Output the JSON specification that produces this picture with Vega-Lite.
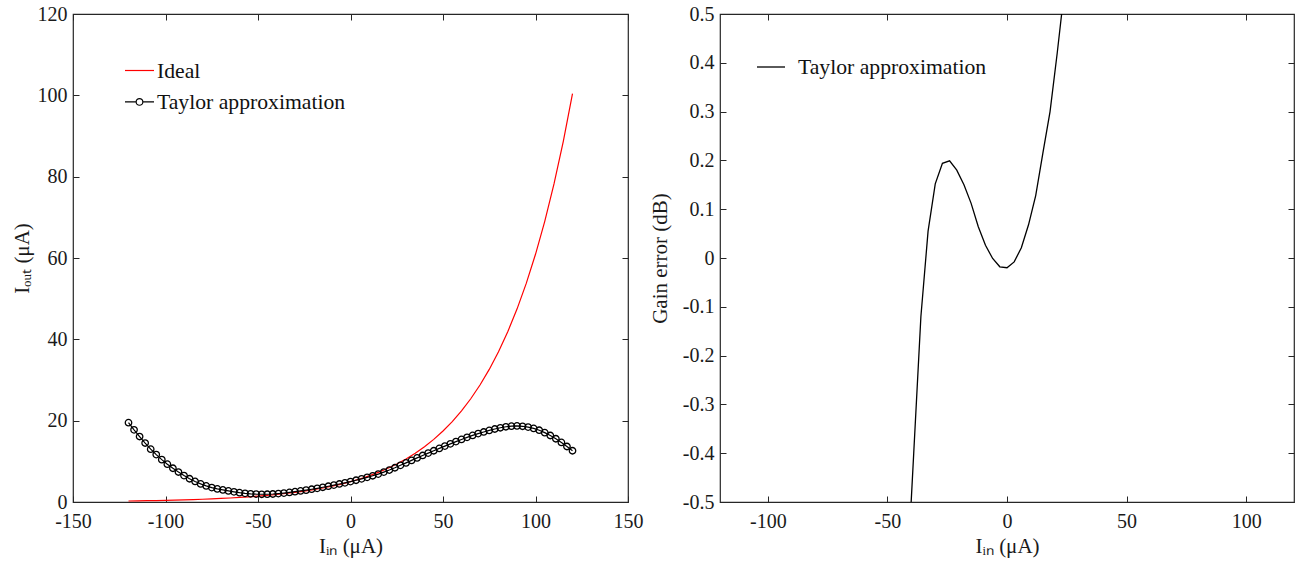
{
  "$schema": "https://vega.github.io/schema/vega-lite/v6.json",
  "background": "white",
  "padding": {"left": 10, "top": -12, "right": 0, "bottom": 0},
  "config": {
    "font": "Liberation Serif",
    "view": {"stroke": "#262626", "strokeWidth": 1.2},
    "axis": {
      "grid": false, "domain": false, "tickSize": -6, "tickColor": "#262626", "tickWidth": 1,
      "labelFont": "Liberation Serif", "labelFontSize": 20, "labelColor": "#1a1a1a",
      "labelFlush": false, "labelOverlap": false, "labelBound": false,
      "titleFont": "Liberation Serif", "titleFontSize": 21, "titleFontWeight": "normal", "titleColor": "#1a1a1a"
    },
    "legend": {
      "labelFont": "Liberation Serif", "labelFontSize": 21.7, "labelColor": "#111111",
      "padding": 0, "symbolStrokeWidth": 1.2, "labelLimit": 400
    }
  },
  "datasets": {
    "left": [
      {"x": -120, "y": 0.249, "series": "Ideal"},
      {"x": -115, "y": 0.282, "series": "Ideal"},
      {"x": -110, "y": 0.32, "series": "Ideal"},
      {"x": -105, "y": 0.362, "series": "Ideal"},
      {"x": -100, "y": 0.41, "series": "Ideal"},
      {"x": -95, "y": 0.465, "series": "Ideal"},
      {"x": -90, "y": 0.527, "series": "Ideal"},
      {"x": -85, "y": 0.597, "series": "Ideal"},
      {"x": -80, "y": 0.677, "series": "Ideal"},
      {"x": -75, "y": 0.767, "series": "Ideal"},
      {"x": -70, "y": 0.869, "series": "Ideal"},
      {"x": -65, "y": 0.985, "series": "Ideal"},
      {"x": -60, "y": 1.116, "series": "Ideal"},
      {"x": -55, "y": 1.264, "series": "Ideal"},
      {"x": -50, "y": 1.433, "series": "Ideal"},
      {"x": -45, "y": 1.623, "series": "Ideal"},
      {"x": -40, "y": 1.839, "series": "Ideal"},
      {"x": -35, "y": 2.084, "series": "Ideal"},
      {"x": -30, "y": 2.362, "series": "Ideal"},
      {"x": -25, "y": 2.676, "series": "Ideal"},
      {"x": -20, "y": 3.033, "series": "Ideal"},
      {"x": -15, "y": 3.436, "series": "Ideal"},
      {"x": -10, "y": 3.894, "series": "Ideal"},
      {"x": -5, "y": 4.412, "series": "Ideal"},
      {"x": 0, "y": 5.0, "series": "Ideal"},
      {"x": 5, "y": 5.666, "series": "Ideal"},
      {"x": 10, "y": 6.42, "series": "Ideal"},
      {"x": 15, "y": 7.275, "series": "Ideal"},
      {"x": 20, "y": 8.244, "series": "Ideal"},
      {"x": 25, "y": 9.341, "series": "Ideal"},
      {"x": 30, "y": 10.585, "series": "Ideal"},
      {"x": 35, "y": 11.994, "series": "Ideal"},
      {"x": 40, "y": 13.591, "series": "Ideal"},
      {"x": 45, "y": 15.401, "series": "Ideal"},
      {"x": 50, "y": 17.452, "series": "Ideal"},
      {"x": 55, "y": 19.775, "series": "Ideal"},
      {"x": 60, "y": 22.408, "series": "Ideal"},
      {"x": 65, "y": 25.392, "series": "Ideal"},
      {"x": 70, "y": 28.773, "series": "Ideal"},
      {"x": 75, "y": 32.604, "series": "Ideal"},
      {"x": 80, "y": 36.945, "series": "Ideal"},
      {"x": 85, "y": 41.865, "series": "Ideal"},
      {"x": 90, "y": 47.438, "series": "Ideal"},
      {"x": 95, "y": 53.755, "series": "Ideal"},
      {"x": 100, "y": 60.912, "series": "Ideal"},
      {"x": 105, "y": 69.023, "series": "Ideal"},
      {"x": 110, "y": 78.213, "series": "Ideal"},
      {"x": 115, "y": 88.627, "series": "Ideal"},
      {"x": 120, "y": 100.43, "series": "Ideal"},
      {"x": -120, "y": 19.5, "series": "Taylor approximation"},
      {"x": -117, "y": 17.75, "series": "Taylor approximation"},
      {"x": -114, "y": 16.1, "series": "Taylor approximation"},
      {"x": -111, "y": 14.5, "series": "Taylor approximation"},
      {"x": -108, "y": 13.0, "series": "Taylor approximation"},
      {"x": -105, "y": 11.65, "series": "Taylor approximation"},
      {"x": -102, "y": 10.42, "series": "Taylor approximation"},
      {"x": -99, "y": 9.3, "series": "Taylor approximation"},
      {"x": -96, "y": 8.3, "series": "Taylor approximation"},
      {"x": -93, "y": 7.37, "series": "Taylor approximation"},
      {"x": -90, "y": 6.5, "series": "Taylor approximation"},
      {"x": -87, "y": 5.72, "series": "Taylor approximation"},
      {"x": -84, "y": 5.05, "series": "Taylor approximation"},
      {"x": -81, "y": 4.45, "series": "Taylor approximation"},
      {"x": -78, "y": 3.95, "series": "Taylor approximation"},
      {"x": -75, "y": 3.55, "series": "Taylor approximation"},
      {"x": -72, "y": 3.22, "series": "Taylor approximation"},
      {"x": -69, "y": 2.96, "series": "Taylor approximation"},
      {"x": -66, "y": 2.72, "series": "Taylor approximation"},
      {"x": -63, "y": 2.5, "series": "Taylor approximation"},
      {"x": -60, "y": 2.3, "series": "Taylor approximation"},
      {"x": -57, "y": 2.14, "series": "Taylor approximation"},
      {"x": -54, "y": 2.02, "series": "Taylor approximation"},
      {"x": -51, "y": 1.94, "series": "Taylor approximation"},
      {"x": -48, "y": 1.9, "series": "Taylor approximation"},
      {"x": -45, "y": 1.91, "series": "Taylor approximation"},
      {"x": -42, "y": 1.97, "series": "Taylor approximation"},
      {"x": -39, "y": 2.07, "series": "Taylor approximation"},
      {"x": -36, "y": 2.2, "series": "Taylor approximation"},
      {"x": -33, "y": 2.36, "series": "Taylor approximation"},
      {"x": -30, "y": 2.53, "series": "Taylor approximation"},
      {"x": -27, "y": 2.72, "series": "Taylor approximation"},
      {"x": -24, "y": 2.92, "series": "Taylor approximation"},
      {"x": -21, "y": 3.14, "series": "Taylor approximation"},
      {"x": -18, "y": 3.37, "series": "Taylor approximation"},
      {"x": -15, "y": 3.62, "series": "Taylor approximation"},
      {"x": -12, "y": 3.88, "series": "Taylor approximation"},
      {"x": -9, "y": 4.15, "series": "Taylor approximation"},
      {"x": -6, "y": 4.43, "series": "Taylor approximation"},
      {"x": -3, "y": 4.72, "series": "Taylor approximation"},
      {"x": 0, "y": 5.02, "series": "Taylor approximation"},
      {"x": 3, "y": 5.35, "series": "Taylor approximation"},
      {"x": 6, "y": 5.7, "series": "Taylor approximation"},
      {"x": 9, "y": 6.06, "series": "Taylor approximation"},
      {"x": 12, "y": 6.45, "series": "Taylor approximation"},
      {"x": 15, "y": 6.87, "series": "Taylor approximation"},
      {"x": 18, "y": 7.35, "series": "Taylor approximation"},
      {"x": 21, "y": 7.86, "series": "Taylor approximation"},
      {"x": 24, "y": 8.42, "series": "Taylor approximation"},
      {"x": 27, "y": 9.02, "series": "Taylor approximation"},
      {"x": 30, "y": 9.62, "series": "Taylor approximation"},
      {"x": 33, "y": 10.23, "series": "Taylor approximation"},
      {"x": 36, "y": 10.84, "series": "Taylor approximation"},
      {"x": 39, "y": 11.44, "series": "Taylor approximation"},
      {"x": 42, "y": 12.03, "series": "Taylor approximation"},
      {"x": 45, "y": 12.6, "series": "Taylor approximation"},
      {"x": 48, "y": 13.18, "series": "Taylor approximation"},
      {"x": 51, "y": 13.75, "series": "Taylor approximation"},
      {"x": 54, "y": 14.3, "series": "Taylor approximation"},
      {"x": 57, "y": 14.85, "series": "Taylor approximation"},
      {"x": 60, "y": 15.38, "series": "Taylor approximation"},
      {"x": 63, "y": 15.9, "series": "Taylor approximation"},
      {"x": 66, "y": 16.38, "series": "Taylor approximation"},
      {"x": 69, "y": 16.82, "series": "Taylor approximation"},
      {"x": 72, "y": 17.22, "series": "Taylor approximation"},
      {"x": 75, "y": 17.6, "series": "Taylor approximation"},
      {"x": 78, "y": 17.95, "series": "Taylor approximation"},
      {"x": 81, "y": 18.25, "series": "Taylor approximation"},
      {"x": 84, "y": 18.5, "series": "Taylor approximation"},
      {"x": 87, "y": 18.65, "series": "Taylor approximation"},
      {"x": 90, "y": 18.7, "series": "Taylor approximation"},
      {"x": 93, "y": 18.62, "series": "Taylor approximation"},
      {"x": 96, "y": 18.42, "series": "Taylor approximation"},
      {"x": 99, "y": 18.1, "series": "Taylor approximation"},
      {"x": 102, "y": 17.65, "series": "Taylor approximation"},
      {"x": 105, "y": 17.05, "series": "Taylor approximation"},
      {"x": 108, "y": 16.35, "series": "Taylor approximation"},
      {"x": 111, "y": 15.55, "series": "Taylor approximation"},
      {"x": 114, "y": 14.65, "series": "Taylor approximation"},
      {"x": 117, "y": 13.65, "series": "Taylor approximation"},
      {"x": 120, "y": 12.6, "series": "Taylor approximation"}
    ],
    "gain": [
      {"x": -42, "y": -0.68},
      {"x": -39, "y": -0.4},
      {"x": -36, "y": -0.12},
      {"x": -33, "y": 0.055},
      {"x": -30, "y": 0.152},
      {"x": -27, "y": 0.194},
      {"x": -24, "y": 0.199},
      {"x": -21, "y": 0.18},
      {"x": -18, "y": 0.15},
      {"x": -15, "y": 0.112},
      {"x": -12, "y": 0.064},
      {"x": -9, "y": 0.026},
      {"x": -6, "y": -0.001},
      {"x": -3, "y": -0.018},
      {"x": 0, "y": -0.02},
      {"x": 3, "y": -0.008},
      {"x": 6, "y": 0.021},
      {"x": 9, "y": 0.068},
      {"x": 12, "y": 0.128},
      {"x": 15, "y": 0.215},
      {"x": 18, "y": 0.3},
      {"x": 21, "y": 0.42},
      {"x": 24, "y": 0.55}
    ]
  },
  "spacing": 92,
  "bounds": "flush",
  "resolve": {"scale": {"color": "independent", "shape": "independent"}},
  "hconcat": [
    {
      "width": 555,
      "height": 488,
      "data": {"name": "left"},
      "layer": [
        {
          "mark": {"type": "point", "opacity": 0, "filled": false},
          "encoding": {
            "x": {"field": "x", "type": "quantitative", "scale": {"domain": [-150, 150], "nice": false}, "axis": null},
            "y": {"field": "y", "type": "quantitative", "scale": {"domain": [0, 120], "nice": false}, "axis": null},
            "color": {
              "field": "series", "type": "nominal",
              "scale": {"domain": ["Ideal", "Taylor approximation"], "range": ["#ff0000", "#000000"]},
              "legend": {"title": null, "orient": "none", "legendX": 51, "legendY": 41, "symbolSize": 841, "labelOffset": 2, "rowPadding": 3.4, "symbolOpacity": 1, "symbolStrokeWidth": 1.2}
            },
            "shape": {
              "field": "series", "type": "nominal",
              "scale": {"domain": ["Ideal", "Taylor approximation"], "range": ["M-1,0H1", "M-1,0H-0.23M0.23,0H1M-0.23,0A0.23,0.23,0,1,0,0.23,0A0.23,0.23,0,1,0,-0.23,0"]},
              "legend": {"title": null, "orient": "none", "legendX": 51, "legendY": 41, "symbolSize": 841, "labelOffset": 2, "rowPadding": 3.4, "symbolOpacity": 1, "symbolStrokeWidth": 1.2}
            }
          }
        },
        {
          "transform": [{"filter": "datum.series == 'Ideal'"}],
          "mark": {"type": "line", "color": "#ff0000", "strokeWidth": 1.2, "clip": true},
          "encoding": {
            "x": {"field": "x", "type": "quantitative", "scale": {"domain": [-150, 150], "nice": false},
              "axis": {"orient": "bottom", "values": [-150, -100, -50, 0, 50, 100, 150], "title": "Iᵢₙ (μA)", "labelExpr": "replace(datum.label, '−', '-')", "labelPadding": 15, "titlePadding": 4}},
            "y": {"field": "y", "type": "quantitative", "scale": {"domain": [0, 120], "nice": false},
              "axis": {"orient": "left", "values": [0, 20, 40, 60, 80, 100, 120], "title": "Iₒᵤₜ (μA)", "labelPadding": 12, "titlePadding": 5}}
          }
        },
        {
          "transform": [{"filter": "datum.series == 'Taylor approximation'"}],
          "mark": {"type": "line", "color": "#000000", "strokeWidth": 1.2, "clip": true},
          "encoding": {
            "x": {"field": "x", "type": "quantitative", "axis": null},
            "y": {"field": "y", "type": "quantitative", "axis": null}
          }
        },
        {
          "transform": [{"filter": "datum.series == 'Taylor approximation'"}],
          "mark": {"type": "point", "shape": "circle", "filled": false, "color": "#000000", "strokeWidth": 1.3, "size": 42, "opacity": 1},
          "encoding": {
            "x": {"field": "x", "type": "quantitative",
              "axis": {"orient": "top", "values": [-150, -100, -50, 0, 50, 100, 150], "labels": false, "title": null, "minExtent": 0, "maxExtent": 0}},
            "y": {"field": "y", "type": "quantitative",
              "axis": {"orient": "right", "values": [0, 20, 40, 60, 80, 100, 120], "labels": false, "title": null, "minExtent": 0, "maxExtent": 0}}
          }
        }
      ],
      "resolve": {"axis": {"x": "independent", "y": "independent"}}
    },
    {
      "width": 574,
      "height": 488,
      "data": {"name": "gain"},
      "layer": [
        {
          "mark": {"type": "line", "color": "#000000", "strokeWidth": 1.3, "clip": true},
          "encoding": {
            "x": {"field": "x", "type": "quantitative", "scale": {"domain": [-120, 120], "nice": false},
              "axis": {"orient": "bottom", "values": [-100, -50, 0, 50, 100], "title": "Iᵢₙ  (μA)", "labelExpr": "replace(datum.label, '−', '-')", "labelPadding": 15, "titlePadding": 4}},
            "y": {"field": "y", "type": "quantitative", "scale": {"domain": [-0.5, 0.5], "nice": false},
              "axis": {"orient": "left", "values": [-0.5, -0.4, -0.3, -0.2, -0.1, 0, 0.1, 0.2, 0.3, 0.4, 0.5], "format": ".1~f", "labelExpr": "replace(datum.label, '−', '-')", "title": "Gain error (dB)", "labelPadding": 12, "titlePadding": 12}},
            "color": {"datum": "Taylor approximation", "type": "nominal",
              "scale": {"domain": ["Taylor approximation"], "range": ["#000000"]},
              "legend": {"title": null, "orient": "none", "legendX": 36, "legendY": 38, "symbolSize": 784, "labelOffset": 12, "symbolStrokeWidth": 1.3}}
          }
        },
        {
          "mark": {"type": "line", "opacity": 0},
          "encoding": {
            "x": {"field": "x", "type": "quantitative",
              "axis": {"orient": "top", "values": [-100, -50, 0, 50, 100], "labels": false, "title": null, "minExtent": 0, "maxExtent": 0}},
            "y": {"field": "y", "type": "quantitative",
              "axis": {"orient": "right", "values": [-0.5, -0.4, -0.3, -0.2, -0.1, 0, 0.1, 0.2, 0.3, 0.4, 0.5], "labels": false, "title": null, "minExtent": 0, "maxExtent": 0}}
          }
        }
      ],
      "resolve": {"axis": {"x": "independent", "y": "independent"}}
    }
  ]
}
